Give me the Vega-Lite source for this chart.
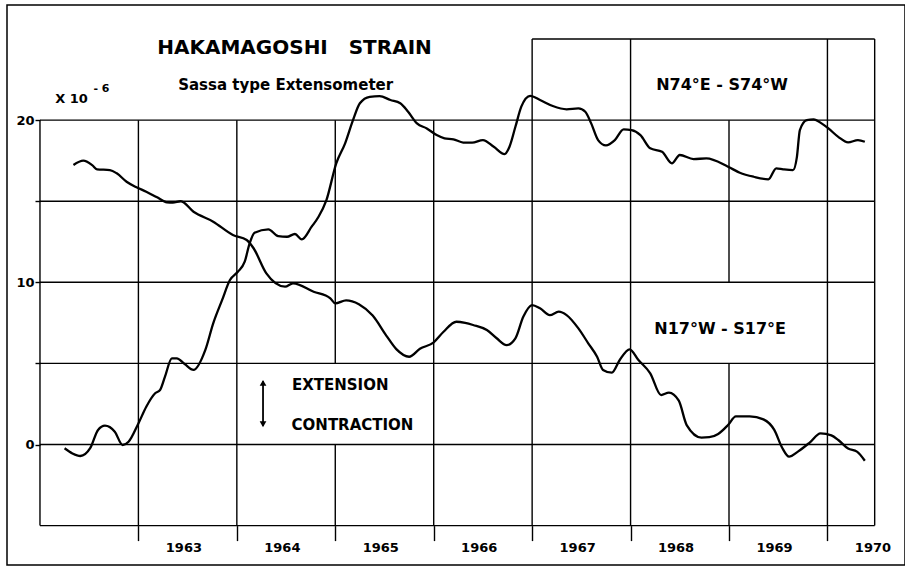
{
  "$schema": "https://vega.github.io/schema/vega-lite/v6.json",
  "width": 898,
  "height": 560,
  "autosize": "none",
  "padding": {"left": 7, "top": 5, "right": 0, "bottom": 1},
  "background": "white",
  "config": {"view": {"stroke": "black", "strokeWidth": 1.5}, "font": "DejaVu Sans"},
  "datasets": {
    "grid": [
      {"x1": 1962, "x2": 1962, "y1": 20, "y2": -5},
      {"x1": 1963, "x2": 1963, "y1": -5, "y2": 20},
      {"x1": 1964, "x2": 1964, "y1": -5, "y2": 20},
      {"x1": 1965, "x2": 1965, "y1": -5, "y2": 0},
      {"x1": 1965, "x2": 1965, "y1": 5, "y2": 20},
      {"x1": 1966, "x2": 1966, "y1": -5, "y2": 20},
      {"x1": 1967, "x2": 1967, "y1": -5, "y2": 25},
      {"x1": 1968, "x2": 1968, "y1": -5, "y2": 25},
      {"x1": 1969, "x2": 1969, "y1": -5, "y2": 5},
      {"x1": 1969, "x2": 1969, "y1": 10, "y2": 20},
      {"x1": 1970, "x2": 1970, "y1": -5, "y2": 25},
      {"x1": 1970.48, "x2": 1970.48, "y1": -5, "y2": 25},
      {"x1": 1970.48, "x2": 1962, "y1": -5, "y2": -5},
      {"x1": 1962, "x2": 1970.48, "y1": 0, "y2": 0},
      {"x1": 1962, "x2": 1970.48, "y1": 5, "y2": 5},
      {"x1": 1962, "x2": 1970.48, "y1": 10, "y2": 10},
      {"x1": 1962, "x2": 1970.48, "y1": 15, "y2": 15},
      {"x1": 1962, "x2": 1970.48, "y1": 20, "y2": 20},
      {"x1": 1967, "x2": 1970.48, "y1": 25, "y2": 25}
    ],
    "strain": [
      {"series": "N74E-S74W", "year": 1962.25, "value": -0.23},
      {"series": "N74E-S74W", "year": 1962.33, "value": -0.55},
      {"series": "N74E-S74W", "year": 1962.41, "value": -0.71},
      {"series": "N74E-S74W", "year": 1962.51, "value": -0.23},
      {"series": "N74E-S74W", "year": 1962.59, "value": 0.9},
      {"series": "N74E-S74W", "year": 1962.66, "value": 1.16},
      {"series": "N74E-S74W", "year": 1962.76, "value": 0.79},
      {"series": "N74E-S74W", "year": 1962.84, "value": -0.03},
      {"series": "N74E-S74W", "year": 1962.9, "value": 0.17},
      {"series": "N74E-S74W", "year": 1963.0, "value": 1.3},
      {"series": "N74E-S74W", "year": 1963.08, "value": 2.33},
      {"series": "N74E-S74W", "year": 1963.17, "value": 3.16},
      {"series": "N74E-S74W", "year": 1963.22, "value": 3.36},
      {"series": "N74E-S74W", "year": 1963.27, "value": 4.18},
      {"series": "N74E-S74W", "year": 1963.34, "value": 5.31},
      {"series": "N74E-S74W", "year": 1963.39, "value": 5.31},
      {"series": "N74E-S74W", "year": 1963.47, "value": 4.96},
      {"series": "N74E-S74W", "year": 1963.56, "value": 4.6},
      {"series": "N74E-S74W", "year": 1963.68, "value": 5.83},
      {"series": "N74E-S74W", "year": 1963.76, "value": 7.47},
      {"series": "N74E-S74W", "year": 1963.85, "value": 8.9},
      {"series": "N74E-S74W", "year": 1963.93, "value": 10.14},
      {"series": "N74E-S74W", "year": 1964.01, "value": 10.65},
      {"series": "N74E-S74W", "year": 1964.08, "value": 11.27},
      {"series": "N74E-S74W", "year": 1964.13, "value": 12.4},
      {"series": "N74E-S74W", "year": 1964.18, "value": 13.06},
      {"series": "N74E-S74W", "year": 1964.32, "value": 13.27},
      {"series": "N74E-S74W", "year": 1964.42, "value": 12.85},
      {"series": "N74E-S74W", "year": 1964.51, "value": 12.81},
      {"series": "N74E-S74W", "year": 1964.59, "value": 12.98},
      {"series": "N74E-S74W", "year": 1964.66, "value": 12.65},
      {"series": "N74E-S74W", "year": 1964.76, "value": 13.43},
      {"series": "N74E-S74W", "year": 1964.83, "value": 14.04},
      {"series": "N74E-S74W", "year": 1964.91, "value": 15.07},
      {"series": "N74E-S74W", "year": 1965.01, "value": 17.34},
      {"series": "N74E-S74W", "year": 1965.1, "value": 18.57},
      {"series": "N74E-S74W", "year": 1965.18, "value": 20.0},
      {"series": "N74E-S74W", "year": 1965.25, "value": 21.04},
      {"series": "N74E-S74W", "year": 1965.35, "value": 21.44},
      {"series": "N74E-S74W", "year": 1965.45, "value": 21.48},
      {"series": "N74E-S74W", "year": 1965.56, "value": 21.24},
      {"series": "N74E-S74W", "year": 1965.66, "value": 21.04},
      {"series": "N74E-S74W", "year": 1965.74, "value": 20.52},
      {"series": "N74E-S74W", "year": 1965.83, "value": 19.8},
      {"series": "N74E-S74W", "year": 1965.93, "value": 19.49},
      {"series": "N74E-S74W", "year": 1966.03, "value": 19.08},
      {"series": "N74E-S74W", "year": 1966.11, "value": 18.88},
      {"series": "N74E-S74W", "year": 1966.2, "value": 18.82},
      {"series": "N74E-S74W", "year": 1966.3, "value": 18.62},
      {"series": "N74E-S74W", "year": 1966.39, "value": 18.61},
      {"series": "N74E-S74W", "year": 1966.5, "value": 18.77},
      {"series": "N74E-S74W", "year": 1966.61, "value": 18.36},
      {"series": "N74E-S74W", "year": 1966.72, "value": 17.91},
      {"series": "N74E-S74W", "year": 1966.77, "value": 18.36},
      {"series": "N74E-S74W", "year": 1966.83, "value": 19.59},
      {"series": "N74E-S74W", "year": 1966.89, "value": 20.83},
      {"series": "N74E-S74W", "year": 1966.98, "value": 21.5},
      {"series": "N74E-S74W", "year": 1967.08, "value": 21.24},
      {"series": "N74E-S74W", "year": 1967.21, "value": 20.87},
      {"series": "N74E-S74W", "year": 1967.35, "value": 20.67},
      {"series": "N74E-S74W", "year": 1967.47, "value": 20.73},
      {"series": "N74E-S74W", "year": 1967.54, "value": 20.52},
      {"series": "N74E-S74W", "year": 1967.6, "value": 19.8},
      {"series": "N74E-S74W", "year": 1967.67, "value": 18.77},
      {"series": "N74E-S74W", "year": 1967.75, "value": 18.44},
      {"series": "N74E-S74W", "year": 1967.84, "value": 18.77},
      {"series": "N74E-S74W", "year": 1967.93, "value": 19.43},
      {"series": "N74E-S74W", "year": 1968.01, "value": 19.39},
      {"series": "N74E-S74W", "year": 1968.1, "value": 19.08},
      {"series": "N74E-S74W", "year": 1968.2, "value": 18.26},
      {"series": "N74E-S74W", "year": 1968.32, "value": 18.05},
      {"series": "N74E-S74W", "year": 1968.42, "value": 17.34},
      {"series": "N74E-S74W", "year": 1968.5, "value": 17.85},
      {"series": "N74E-S74W", "year": 1968.64, "value": 17.6},
      {"series": "N74E-S74W", "year": 1968.77, "value": 17.64},
      {"series": "N74E-S74W", "year": 1968.99, "value": 17.13},
      {"series": "N74E-S74W", "year": 1969.11, "value": 16.76},
      {"series": "N74E-S74W", "year": 1969.25, "value": 16.51},
      {"series": "N74E-S74W", "year": 1969.4, "value": 16.35},
      {"series": "N74E-S74W", "year": 1969.48, "value": 17.03},
      {"series": "N74E-S74W", "year": 1969.55, "value": 16.97},
      {"series": "N74E-S74W", "year": 1969.65, "value": 16.92},
      {"series": "N74E-S74W", "year": 1969.69, "value": 17.74},
      {"series": "N74E-S74W", "year": 1969.72, "value": 19.39},
      {"series": "N74E-S74W", "year": 1969.79, "value": 20.0},
      {"series": "N74E-S74W", "year": 1969.86, "value": 20.05},
      {"series": "N74E-S74W", "year": 1969.94, "value": 19.8},
      {"series": "N74E-S74W", "year": 1970.01, "value": 19.49},
      {"series": "N74E-S74W", "year": 1970.11, "value": 18.97},
      {"series": "N74E-S74W", "year": 1970.21, "value": 18.63},
      {"series": "N74E-S74W", "year": 1970.31, "value": 18.77},
      {"series": "N74E-S74W", "year": 1970.38, "value": 18.67},
      {"series": "N17W-S17E", "year": 1962.34, "value": 17.23},
      {"series": "N17W-S17E", "year": 1962.44, "value": 17.5},
      {"series": "N17W-S17E", "year": 1962.53, "value": 17.23},
      {"series": "N17W-S17E", "year": 1962.58, "value": 16.97},
      {"series": "N17W-S17E", "year": 1962.71, "value": 16.92},
      {"series": "N17W-S17E", "year": 1962.78, "value": 16.72},
      {"series": "N17W-S17E", "year": 1962.88, "value": 16.2},
      {"series": "N17W-S17E", "year": 1962.98, "value": 15.86},
      {"series": "N17W-S17E", "year": 1963.08, "value": 15.59},
      {"series": "N17W-S17E", "year": 1963.19, "value": 15.24},
      {"series": "N17W-S17E", "year": 1963.29, "value": 14.93},
      {"series": "N17W-S17E", "year": 1963.35, "value": 14.91},
      {"series": "N17W-S17E", "year": 1963.43, "value": 15.0},
      {"series": "N17W-S17E", "year": 1963.56, "value": 14.35},
      {"series": "N17W-S17E", "year": 1963.76, "value": 13.74},
      {"series": "N17W-S17E", "year": 1963.96, "value": 12.92},
      {"series": "N17W-S17E", "year": 1964.1, "value": 12.61},
      {"series": "N17W-S17E", "year": 1964.17, "value": 12.1},
      {"series": "N17W-S17E", "year": 1964.3, "value": 10.55},
      {"series": "N17W-S17E", "year": 1964.49, "value": 9.73},
      {"series": "N17W-S17E", "year": 1964.57, "value": 9.94},
      {"series": "N17W-S17E", "year": 1964.78, "value": 9.42},
      {"series": "N17W-S17E", "year": 1964.95, "value": 9.01},
      {"series": "N17W-S17E", "year": 1965.0, "value": 8.7},
      {"series": "N17W-S17E", "year": 1965.11, "value": 8.89},
      {"series": "N17W-S17E", "year": 1965.24, "value": 8.65},
      {"series": "N17W-S17E", "year": 1965.38, "value": 7.95},
      {"series": "N17W-S17E", "year": 1965.52, "value": 6.7},
      {"series": "N17W-S17E", "year": 1965.62, "value": 5.88},
      {"series": "N17W-S17E", "year": 1965.75, "value": 5.41},
      {"series": "N17W-S17E", "year": 1965.86, "value": 5.9},
      {"series": "N17W-S17E", "year": 1966.0, "value": 6.3},
      {"series": "N17W-S17E", "year": 1966.1, "value": 6.95},
      {"series": "N17W-S17E", "year": 1966.23, "value": 7.57},
      {"series": "N17W-S17E", "year": 1966.32, "value": 7.5},
      {"series": "N17W-S17E", "year": 1966.4, "value": 7.37},
      {"series": "N17W-S17E", "year": 1966.54, "value": 7.06},
      {"series": "N17W-S17E", "year": 1966.64, "value": 6.55},
      {"series": "N17W-S17E", "year": 1966.74, "value": 6.13},
      {"series": "N17W-S17E", "year": 1966.83, "value": 6.55},
      {"series": "N17W-S17E", "year": 1966.91, "value": 7.88},
      {"series": "N17W-S17E", "year": 1967.0, "value": 8.6},
      {"series": "N17W-S17E", "year": 1967.08, "value": 8.4},
      {"series": "N17W-S17E", "year": 1967.18, "value": 7.98},
      {"series": "N17W-S17E", "year": 1967.27, "value": 8.19},
      {"series": "N17W-S17E", "year": 1967.35, "value": 7.98},
      {"series": "N17W-S17E", "year": 1967.47, "value": 7.16},
      {"series": "N17W-S17E", "year": 1967.57, "value": 6.24},
      {"series": "N17W-S17E", "year": 1967.66, "value": 5.41},
      {"series": "N17W-S17E", "year": 1967.72, "value": 4.6},
      {"series": "N17W-S17E", "year": 1967.81, "value": 4.43},
      {"series": "N17W-S17E", "year": 1967.89, "value": 5.21},
      {"series": "N17W-S17E", "year": 1967.99, "value": 5.87},
      {"series": "N17W-S17E", "year": 1968.08, "value": 5.21},
      {"series": "N17W-S17E", "year": 1968.2, "value": 4.39},
      {"series": "N17W-S17E", "year": 1968.31, "value": 3.05},
      {"series": "N17W-S17E", "year": 1968.39, "value": 3.2},
      {"series": "N17W-S17E", "year": 1968.49, "value": 2.7},
      {"series": "N17W-S17E", "year": 1968.57, "value": 1.2},
      {"series": "N17W-S17E", "year": 1968.72, "value": 0.43},
      {"series": "N17W-S17E", "year": 1968.8, "value": 0.45},
      {"series": "N17W-S17E", "year": 1968.89, "value": 0.65},
      {"series": "N17W-S17E", "year": 1968.99, "value": 1.2},
      {"series": "N17W-S17E", "year": 1969.07, "value": 1.74},
      {"series": "N17W-S17E", "year": 1969.21, "value": 1.74},
      {"series": "N17W-S17E", "year": 1969.35, "value": 1.55},
      {"series": "N17W-S17E", "year": 1969.46, "value": 0.9},
      {"series": "N17W-S17E", "year": 1969.54, "value": -0.2},
      {"series": "N17W-S17E", "year": 1969.61, "value": -0.75},
      {"series": "N17W-S17E", "year": 1969.7, "value": -0.44},
      {"series": "N17W-S17E", "year": 1969.82, "value": 0.12},
      {"series": "N17W-S17E", "year": 1969.93, "value": 0.69},
      {"series": "N17W-S17E", "year": 1970.04, "value": 0.56},
      {"series": "N17W-S17E", "year": 1970.11, "value": 0.28},
      {"series": "N17W-S17E", "year": 1970.21, "value": -0.25},
      {"series": "N17W-S17E", "year": 1970.3, "value": -0.44},
      {"series": "N17W-S17E", "year": 1970.38, "value": -1.0}
    ],
    "notes": [
      {"kind": "title", "label": "HAKAMAGOSHI\u00a0\u00a0\u00a0STRAIN", "x": 1964.586, "y": 24.44},
      {"kind": "subtitle", "label": "Sassa type Extensometer", "x": 1964.496, "y": 22.16},
      {"kind": "unit", "label": "X 10", "x": 1962.32, "y": 21.3},
      {"kind": "exponent", "label": "- 6", "x": 1962.625, "y": 21.92},
      {"kind": "series", "label": "N74°E - S74°W", "x": 1968.93, "y": 22.16},
      {"kind": "series", "label": "N17°W - S17°E", "x": 1968.91, "y": 7.12},
      {"kind": "direction", "label": "EXTENSION", "x": 1965.05, "y": 3.67},
      {"kind": "direction", "label": "CONTRACTION", "x": 1965.175, "y": 1.2}
    ],
    "arrow": [
      {"x": 1964.266, "y1": 1.15, "y2": 3.9}
    ],
    "heads": [
      {"x": 1964.266, "y": 3.8, "dir": "up"},
      {"x": 1964.266, "y": 1.25, "dir": "down"}
    ]
  },
  "layer": [
    {
      "data": {"name": "strain"},
      "mark": {"type": "line", "interpolate": "monotone", "stroke": "black", "strokeWidth": 2.3},
      "encoding": {
        "x": {"field": "year", "type": "quantitative", "title": null},
        "y": {"field": "value", "type": "quantitative", "title": null},
        "detail": {"field": "series"}
      }
    },
    {
      "data": {"name": "arrow"},
      "mark": {"type": "rule", "stroke": "black", "strokeWidth": 1.8},
      "encoding": {
        "x": {"field": "x", "type": "quantitative", "title": null},
        "y": {"field": "y1", "type": "quantitative", "title": null},
        "y2": {"field": "y2"}
      }
    },
    {
      "data": {"name": "heads"},
      "mark": {"type": "point", "filled": true, "color": "black", "size": 45, "opacity": 1},
      "encoding": {
        "x": {"field": "x", "type": "quantitative", "title": null},
        "y": {"field": "y", "type": "quantitative", "title": null},
        "shape": {"field": "dir", "type": "nominal", "scale": {"domain": ["up", "down"], "range": ["triangle-up", "triangle-down"]}, "legend": null}
      }
    },
    {
      "data": {"name": "notes"},
      "transform": [{"filter": "datum.kind == 'title'"}],
      "mark": {"type": "text", "font": "DejaVu Sans", "fontWeight": "bold", "fontSize": 20, "align": "center", "baseline": "middle", "color": "black"},
      "encoding": {
        "x": {"field": "x", "type": "quantitative", "title": null},
        "y": {"field": "y", "type": "quantitative", "title": null},
        "text": {"field": "label"}
      }
    },
    {
      "data": {"name": "notes"},
      "transform": [{"filter": "datum.kind == 'subtitle'"}],
      "mark": {"type": "text", "font": "DejaVu Sans", "fontWeight": "bold", "fontSize": 15, "align": "center", "baseline": "middle", "color": "black"},
      "encoding": {
        "x": {"field": "x", "type": "quantitative", "title": null},
        "y": {"field": "y", "type": "quantitative", "title": null},
        "text": {"field": "label"}
      }
    },
    {
      "data": {"name": "notes"},
      "transform": [{"filter": "datum.kind == 'unit'"}],
      "mark": {"type": "text", "font": "DejaVu Sans", "fontWeight": "bold", "fontSize": 13, "align": "center", "baseline": "middle", "color": "black"},
      "encoding": {
        "x": {"field": "x", "type": "quantitative", "title": null},
        "y": {"field": "y", "type": "quantitative", "title": null},
        "text": {"field": "label"}
      }
    },
    {
      "data": {"name": "notes"},
      "transform": [{"filter": "datum.kind == 'exponent'"}],
      "mark": {"type": "text", "font": "DejaVu Sans", "fontWeight": "bold", "fontSize": 11, "align": "center", "baseline": "middle", "color": "black"},
      "encoding": {
        "x": {"field": "x", "type": "quantitative", "title": null},
        "y": {"field": "y", "type": "quantitative", "title": null},
        "text": {"field": "label"}
      }
    },
    {
      "data": {"name": "notes"},
      "transform": [{"filter": "datum.kind == 'series'"}],
      "mark": {"type": "text", "font": "DejaVu Sans", "fontWeight": "bold", "fontSize": 16, "align": "center", "baseline": "middle", "color": "black"},
      "encoding": {
        "x": {"field": "x", "type": "quantitative", "title": null},
        "y": {"field": "y", "type": "quantitative", "title": null},
        "text": {"field": "label"}
      }
    },
    {
      "data": {"name": "notes"},
      "transform": [{"filter": "datum.kind == 'direction'"}],
      "mark": {"type": "text", "font": "DejaVu Sans", "fontWeight": "bold", "fontSize": 15, "align": "center", "baseline": "middle", "color": "black"},
      "encoding": {
        "x": {"field": "x", "type": "quantitative", "title": null},
        "y": {"field": "y", "type": "quantitative", "title": null},
        "text": {"field": "label"}
      }
    },
    {
      "data": {"name": "grid"},
      "mark": {"type": "rule", "stroke": "black", "strokeWidth": 1.4},
      "encoding": {
        "x": {
          "field": "x1", "type": "quantitative",
          "scale": {"domain": [1961.665, 1970.788], "nice": false, "zero": false},
          "axis": {
            "title": null, "values": [1963, 1964, 1965, 1966, 1967, 1968, 1969, 1970],
            "format": "d", "domain": false, "grid": false, "offset": -39.4, "zindex": 0,
            "tickSize": 15, "tickColor": "black", "tickWidth": 1.4,
            "labelFont": "DejaVu Sans", "labelFontWeight": "bold", "labelFontSize": 13,
            "labelColor": "black", "labelPadding": 1, "labelOffset": 45,
            "labelFlush": false, "labelOverlap": false, "labelBound": false
          }
        },
        "x2": {"field": "x2"},
        "y": {
          "field": "y1", "type": "quantitative",
          "scale": {"domain": [-7.43, 27.1], "nice": false, "zero": false},
          "axis": {
            "title": null, "values": [0, 5, 10, 15, 20],
            "labelExpr": "datum.value % 10 === 0 ? datum.label : ''",
            "domain": false, "grid": false, "offset": -33, "zindex": 0,
            "tickSize": 5, "tickColor": "black", "tickWidth": 1.4,
            "labelFont": "DejaVu Sans", "labelFontWeight": "bold", "labelFontSize": 13,
            "labelColor": "black", "labelPadding": 1
          }
        },
        "y2": {"field": "y2"}
      }
    }
  ]
}
